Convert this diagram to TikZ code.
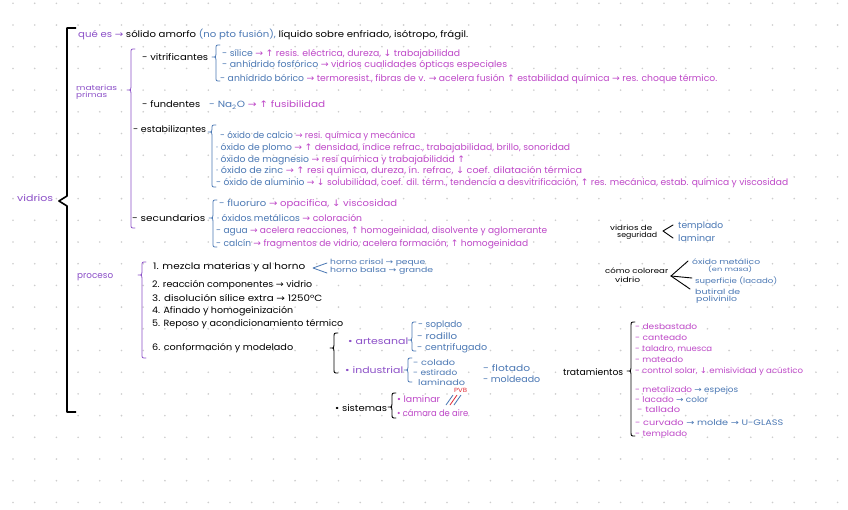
\documentclass[tikz,border=0pt]{standalone}
\usepackage{fontspec}
\usepackage{graphicx}
\setmainfont{Poppins}
\newfontfamily\symf{DejaVu Sans}
\definecolor{cpur}{RGB}{140,80,200}
\definecolor{cmag}{RGB}{190,72,200}
\definecolor{cblu}{RGB}{75,120,180}
\definecolor{cred}{RGB}{225,45,55}
\definecolor{dotc}{RGB}{205,205,205}
\newcommand\ra{{\symf →}}
\newcommand\uar{{\symf ↑}}
\newcommand\dar{{\symf ↓}}
\newcommand\nfw[2]{\resizebox{#1pt}{\height}{#2}}
\newcommand\cB[1]{\textcolor{cblu}{#1}}
\newcommand\cM[1]{\textcolor{cmag}{#1}}
\newcommand\cP[1]{\textcolor{cpur}{#1}}
\newcommand\brc[5]{\draw[#5] ({#1+4},#2) .. controls (#1,#2) .. (#1,{#2+4}) -- (#1,{#3-3}) .. controls (#1,#3) .. ({#1-4},#3) .. controls (#1,#3) .. (#1,{#3+3}) -- (#1,{#4-4}) .. controls (#1,#4) .. ({#1+4},#4);}
\tikzset{
  txt/.style={anchor=west, inner sep=0pt, font=\fontsize{9}{9}\selectfont},
  txm/.style={anchor=west, inner sep=0pt, font=\fontsize{8}{8}\selectfont},
  txs/.style={anchor=west, inner sep=0pt, font=\fontsize{7.2}{7.2}\selectfont},
  bpur/.style={cpur, line width=0.8pt, line cap=round, line join=round},
  bblu/.style={cblu, line width=0.8pt, line cap=round, line join=round},
  bblk/.style={black, line width=0.9pt, line cap=round, line join=round},
}
\begin{document}
\begin{tikzpicture}[x=1pt,y=-1pt]
\useasboundingbox (0,0) rectangle (848,509);
\fill[white] (0,0) rectangle (848,509);
\foreach \i in {0,...,38} \foreach \j in {0,...,23} \fill[dotc] ({13+21.7*\i},{3.3+21.7*\j}) circle (0.9pt);
% main bracket
\draw[black, line width=1.6pt, line join=round] (76,28) -- (67,28) -- (67,196) -- (59,201) -- (67,206) -- (67,412) -- (76,412);
\node[txt] (vid) at (17,198) {\nfw{36}{\cP{vidrios}}};
\node[txt] (top) at (78,35) {\nfw{390}{\cP{qué es \ra} sólido amorfo \cB{(no pto fusión),} líquido sobre enfriado, isótropo, frágil.}};
% materias primas
\brc{131}{49}{90}{228}{bpur}
\node[txs] (mat1) at (76,88) {\nfw{41}{\cP{materias}}};
\node[txs] (mat2) at (76,96) {\nfw{31}{\cP{primas}}};
\node[txt] (vitr) at (142,57) {\nfw{66}{- vitrificantes}};
\brc{216}{45}{57}{81}{bblu}
\node[txt] (sil) at (222,54) {\nfw{238}{\cB{- sílice} \cM{\ra\ \uar\ resis. eléctrica, dureza, \dar\ trabajabilidad}}};
\node[txt] (fos) at (222,65) {\nfw{285}{\cB{- anhídrido fosfórico} \cM{\ra\ vidrios cualidades ópticas especiales}}};
\node[txt] (bor) at (220,79) {\nfw{497}{\cB{- anhídrido bórico} \cM{\ra\ termoresist., fibras de v. \ra\ acelera fusión \uar\ estabilidad química \ra\ res. choque térmico.}}};
\node[txt] (fund) at (142,104) {\nfw{58}{- fundentes}};
\node[txt] (na) at (209,105) {\nfw{116}{\cB{- Na\textsubscript{2}O} \cM{\ra\ \uar\ fusibilidad}}};
\node[txt] (estab) at (133,129) {\nfw{73}{- estabilizantes}};
\brc{212}{125}{132}{187}{bblu}
\node[txt] (ca) at (220,136) {\nfw{195}{\cB{- óxido de calcio} \cM{\ra\ resi. química y mecánica}}};
\node[txt] (pb) at (216,148) {\nfw{354}{\cB{· óxido de plomo} \cM{\ra\ \uar\ densidad, índice refrac., trabajabilidad, brillo, sonoridad}}};
\node[txt] (mgo) at (216,160) {\nfw{249}{\cB{· óxido de magnesio} \cM{\ra\ resi química y trabajabilidad \uar}}};
\node[txt] (zn) at (216,171) {\nfw{366}{\cB{· óxido de zinc} \cM{\ra\ \uar\ resi química, dureza, ín. refrac, \dar\ coef. dilatación térmica}}};
\node[txt] (al) at (216,183) {\nfw{572}{\cB{- óxido de aluminio} \cM{\ra\ \dar\ solubilidad, coef. dil. térm., tendencia a desvitrificación, \uar\ res. mecánica, estab. química y viscosidad}}};
\node[txt] (sec) at (132,218) {\nfw{73}{- secundarios}};
\brc{213}{200}{218}{247}{bblu}
\node[txt] (flu) at (219,204) {\nfw{178}{\cB{- fluoruro} \cM{\ra\ opacifica, \dar\ viscosidad}}};
\node[txt] (omet) at (217,218) {\nfw{145}{\cB{· óxidos metálicos} \cM{\ra\ coloración}}};
\node[txt] (agua) at (216,231) {\nfw{331}{\cB{- agua} \cM{\ra\ acelera reacciones, \uar\ homogeinidad, disolvente y aglomerante}}};
\node[txt] (calc) at (216,244) {\nfw{312}{\cB{- calcín} \cM{\ra\ fragmentos de vidrio, acelera formación, \uar\ homogeinidad}}};
% proceso
\node[txt] (proc) at (77,277) {\nfw{36}{\cP{proceso}}};
\brc{142}{262}{275}{358}{bpur}
\node[txt] (s1) at (153,267) {\nfw{152}{1. mezcla materias y al horno}};
\coordinate (h1) at (327,263); \coordinate (h2) at (313,268); \coordinate (h3) at (327,273);
\draw[bblu] (h1) -- (h2) -- (h3);
\node[txs] (hc) at (330,263) {\nfw{95}{\cB{horno crisol \ra\ peque}}};
\node[txs] (hb) at (330,271) {\nfw{103}{\cB{horno balsa \ra\ grande}}};
\node[txt] (s2) at (152,285) {\nfw{160}{2. reacción componentes \ra\ vidrio}};
\node[txt] (s3) at (152,298) {\nfw{170}{3. disolución sílice extra \ra\ 1250°C}};
\node[txt] (s4) at (152,311) {\nfw{141}{4. Afinado y homogeinización}};
\node[txt] (s5) at (152,324) {\nfw{191}{5. Reposo y acondicionamiento térmico}};
\node[txt] (s6) at (152,348) {\nfw{141}{6. conformación y modelado}};
\brc{334}{333}{348}{373}{bblk}
\node[txt] (art) at (348,341) {\nfw{60}{\cP{• artesanal}}};
\brc{412}{322}{340}{351}{bblu}
\node[txt] (sop) at (418,325) {\nfw{44}{\cB{- soplado}}};
\node[txt] (rod) at (417,336) {\nfw{40}{\cB{- rodillo}}};
\node[txt] (cen) at (417,348) {\nfw{70}{\cB{- centrifugado}}};
\node[txt] (ind) at (345,370) {\nfw{58}{\cP{• industrial}}};
\brc{408}{358}{370}{382}{bblu}
\node[txm] (col) at (413,363) {\nfw{42}{\cB{- colado}}};
\node[txm] (est) at (413,372) {\nfw{44}{\cB{- estirado}}};
\node[txm] (lam) at (418,382) {\nfw{47}{\cB{laminado}}};
\node[txt] (flo) at (483,368) {\nfw{47}{\cB{- flotado}}};
\node[txt] (mol) at (483,379) {\nfw{57}{\cB{- moldeado}}};
\node[txt] (sis) at (335,408) {\nfw{52}{• sistemas}};
\brc{392}{393}{407}{418}{bblk}
\node[txt] (lmr) at (397,399) {\nfw{43}{\cM{• laminar}}};
\node[txt] (cam) at (397,413) {\nfw{71}{\cM{• cámara de aire}}};
\draw[cblu, line width=0.8pt] (446,405) -- (453,395);
\draw[cred, line width=0.8pt] (450,405) -- (457,395);
\draw[cblu, line width=0.8pt] (454,405) -- (461,395);
\node[txt, font=\fontsize{6}{6}\selectfont] (pvb) at (454,390) {\nfw{13}{\textcolor{cred}{PVB}}};
% right side
\node[txs] (vs1) at (610,228) {\nfw{42}{vidrios de}};
\node[txs] (vs2) at (617,236) {\nfw{40}{seguridad}};
\coordinate (v1) at (673,225); \coordinate (v2) at (663,231); \coordinate (v3) at (673,238);
\draw[bblk] (v1) -- (v2) -- (v3);
\node[txt] (tem) at (678,226) {\nfw{45}{\cB{templado}}};
\node[txt] (lam2) at (678,238) {\nfw{37}{\cB{laminar}}};
\node[txs] (cc1) at (605,271) {\nfw{63}{cómo colorear}};
\node[txs] (cc2) at (615,280) {\nfw{25}{vidrio}};
\coordinate (cc) at (671,276);
\coordinate (e1) at (688,261); \coordinate (e2) at (692,278); \coordinate (e3) at (690,289);
\draw[bblk] (cc) -- (e1); \draw[bblk] (cc) -- (e2); \draw[bblk] (cc) -- (e3);
\node[txs] (om1) at (692,262) {\nfw{68}{\cB{óxido metálico}}};
\node[txs, font=\fontsize{6}{6}\selectfont] (om2) at (708,269) {\nfw{44}{\cB{(en masa)}}};
\node[txs] (sup) at (695,281) {\nfw{82}{\cB{superficie (lacado)}}};
\node[txs] (but1) at (695,292) {\nfw{45}{\cB{butiral de}}};
\node[txs] (but2) at (696,300) {\nfw{41}{\cB{polivinilo}}};
% tratamientos
\node[txt] (trat) at (563,372) {\nfw{60}{tratamientos}};
\brc{631}{322}{371}{436}{bblk}
\node[txm] (des) at (635,327) {\nfw{62}{\cM{- desbastado}}};
\node[txm] (can) at (635,338) {\nfw{52}{\cM{- canteado}}};
\node[txm] (tal) at (635,349) {\nfw{77}{\cM{- taladro, muesca}}};
\node[txm] (mate) at (635,360) {\nfw{48}{\cM{- mateado}}};
\node[txm] (cs) at (635,371) {\nfw{168}{\cM{- control solar, \dar\ emisividad y acústico}}};
\node[txm] (met) at (635,390) {\nfw{103}{\cM{- metalizado} \cB{\ra\ espejos}}};
\node[txm] (lac) at (635,400) {\nfw{73}{\cM{- lacado} \cB{\ra\ color}}};
\node[txm] (tall) at (637,410) {\nfw{43}{\cM{- tallado}}};
\node[txm] (cur) at (635,423) {\nfw{148}{\cM{- curvado} \cB{\ra\ molde \ra\ U-GLASS}}};
\node[txm] (temp) at (635,435) {\nfw{52}{\cM{- templado}}};
\end{tikzpicture}
\end{document}
